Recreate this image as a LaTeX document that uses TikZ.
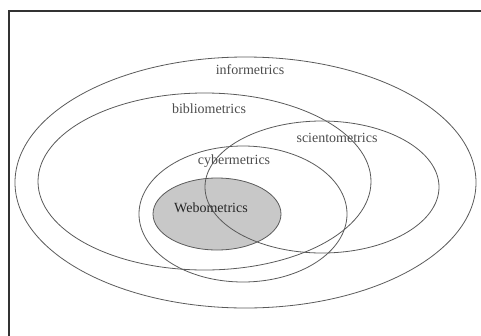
\documentclass[tikz,border=0pt]{standalone}
\usepackage{fontspec}
\setmainfont{Liberation Serif}
\definecolor{setline}{HTML}{5A5A5A}
\definecolor{webfill}{HTML}{C8C8C8}
\tikzset{
 setedge/.style={draw=setline,line width=0.8pt},
 setlabel/.style={font=\fontsize{14}{16}\selectfont,text=black!70},
}
\begin{document}
\begin{tikzpicture}[x=1pt,y=-1pt]
 \useasboundingbox (0,0) rectangle (481,335);
 \clip (0,0) rectangle (481,335);
 \draw[line width=1.6pt,black!80](9,11) rectangle (500,360);
 \draw[setedge,fill=webfill](217,214) ellipse [x radius=64,y radius=36];
 \draw[setedge](245.5,182.5) ellipse [x radius=230.5,y radius=125.5];
 \draw[setedge](204.5,181.5) ellipse [x radius=166.5,y radius=88.5];
 \draw[setedge](322,187) ellipse [x radius=117,y radius=66];
 \draw[setedge](243,214) ellipse [x radius=104,y radius=68];
 \node[setlabel] (info) at (250,70) {informetrics};
 \node[setlabel] (biblio) at (209,109) {bibliometrics};
 \node[setlabel] (sciento) at (337,138) {scientometrics};
 \node[setlabel] (cyber) at (234,161) {cybermetrics};
 \node[setlabel,text=black!85] (webo) at (211,208) {Webometrics};
\end{tikzpicture}
\end{document}
